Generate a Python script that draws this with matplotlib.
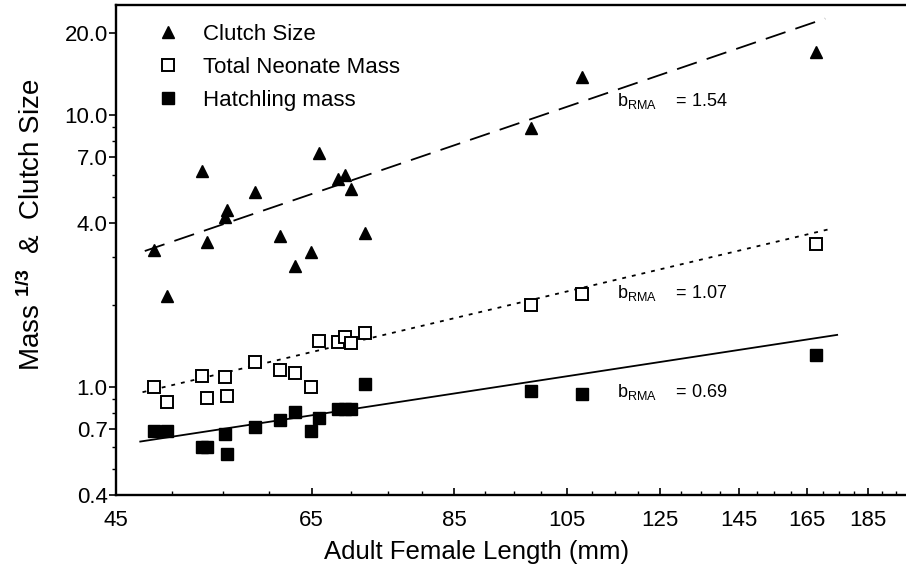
import numpy as np
import matplotlib
matplotlib.use("Agg")
import matplotlib.pyplot as plt
from matplotlib.ticker import FixedLocator, NullFormatter

plt.rcParams['font.family'] = ['Liberation Sans', 'DejaVu Sans']
plt.rcParams['mathtext.fontset'] = 'custom'
plt.rcParams['mathtext.rm'] = 'Liberation Sans'
plt.rcParams['mathtext.it'] = 'Liberation Sans:italic'
plt.rcParams['mathtext.bf'] = 'Liberation Sans:bold'
plt.rcParams['mathtext.sf'] = 'Liberation Sans'
plt.rcParams['lines.scale_dashes'] = False

# ---- data ----
female_length = [48.3, 49.5, 52.9, 53.4, 55.2, 55.4, 58.4, 61.2, 63.0, 64.9,
                 65.9, 68.3, 69.2, 70.0, 71.8, 98.1, 108.1, 167.7]
clutch_size = [3.19, 2.15, 6.24, 3.42, 4.21, 4.47, 5.22, 3.60, 2.79, 3.13,
               7.23, 5.80, 6.02, 5.35, 3.67, 8.93, 13.76, 17.09]
neonate_mass = [0.997, 0.876, 1.10, 0.906, 1.089, 0.927, 1.233, 1.155, 1.123, 1.0,
                1.476, 1.467, 1.531, 1.447, 1.576, 2.00, 2.20, 3.356]
hatchling_mass = [0.685, 0.685, 0.60, 0.60, 0.672, 0.567, 0.711, 0.756, 0.811, 0.689,
                  0.767, 0.830, 0.830, 0.830, 1.026, 0.967, 0.942, 1.311]

# RMA fits: log10(y) = log10a + b*log10(x)
fit_slopes = [1.54, 1.07, 0.69]
fit_log10_intercepts = [-2.0824, -1.8118, -1.3557]
fit_x_ranges = [(47.5, 170.6), (47.3, 172.3), (47.1, 174.5)]
fit_labels = ["1.54", "1.07", "0.69"]

series_names = ["Clutch Size", "Total Neonate Mass", "Hatchling mass"]

x_ticks = [45, 65, 85, 105, 125, 145, 165, 185]
x_tick_labels = ["45", "65", "85", "105", "125", "145", "165", "185"]
y_ticks = [0.4, 0.7, 1.0, 4.0, 7.0, 10.0, 20.0]
y_tick_labels = ["0.4", "0.7", "1.0", "4.0", "7.0", "10.0", "20.0"]
y_minor = [0.5, 0.6, 0.8, 0.9, 2, 3, 5, 6, 8, 9]

fig = plt.figure(figsize=(9.06, 5.68), dpi=100)
ax = fig.add_axes([116/906, 73/568, 790/906, 490/568])
ax.set_xscale('log')
ax.set_yscale('log')

# points
ax.plot(female_length, clutch_size, linestyle='none', marker='^', ms=8.5,
        mfc='black', mec='black', mew=1.0, label=series_names[0], zorder=3)
ax.plot(female_length, neonate_mass, linestyle='none', marker='s', ms=8.2,
        mfc='white', mec='black', mew=1.4, label=series_names[1], zorder=3)
ax.plot(female_length, hatchling_mass, linestyle='none', marker='s', ms=8.5,
        mfc='black', mec='black', mew=1.0, label=series_names[2], zorder=3)

# fit lines
dash_styles = [(0, (15, 7.5)), (0, (2.8, 4.3)), '-']
for b, la, (x0, x1), ls in zip(fit_slopes, fit_log10_intercepts, fit_x_ranges, dash_styles):
    xs = np.array([x0, x1])
    ys = 10 ** (la + b * np.log10(xs))
    ax.plot(xs, ys, color='black', lw=1.3, linestyle=ls, zorder=2)

# annotations
ann_pos = [(115.4, 10.8), (115.4, 2.125), (115.4, 0.917)]
for (tx, ty), lab in zip(ann_pos, fit_labels):
    ax.text(tx, ty, r'b$_{\mathrm{RMA}}$    = ' + lab, fontsize=13,
            ha='left', va='baseline')

ax.set_xlim(45, 198.6)
ax.set_ylim(0.4, 25.4)

ax.xaxis.set_major_locator(FixedLocator(x_ticks))
ax.set_xticklabels(x_tick_labels)
ax.xaxis.set_minor_locator(FixedLocator([v for v in range(50, 200, 5) if v not in x_ticks]))
ax.xaxis.set_minor_formatter(NullFormatter())
ax.yaxis.set_major_locator(FixedLocator(y_ticks))
ax.set_yticklabels(y_tick_labels)
ax.yaxis.set_minor_locator(FixedLocator(y_minor))
ax.yaxis.set_minor_formatter(NullFormatter())

ax.tick_params(axis='x', which='major', direction='in', length=5, width=1.2,
               labelsize=16, pad=11)
ax.tick_params(axis='x', which='minor', direction='in', length=3, width=1.0)
ax.tick_params(axis='y', which='major', direction='out', length=5, width=1.2,
               labelsize=16, pad=1)
ax.tick_params(axis='y', which='minor', direction='out', length=3, width=1.0)

for side in ['left', 'bottom', 'top']:
    ax.spines[side].set_linewidth(1.7)
ax.spines['right'].set_visible(False)

ax.set_xlabel('Adult Female Length (mm)', fontsize=18.5)
ax.xaxis.set_label_coords(0.456, -0.092)
ax.set_ylabel(r'Mass $^{\mathbf{1/3}}$  &  Clutch Size', fontsize=20)
ax.yaxis.set_label_coords(-0.089, 0.551)

ax.legend(loc='upper left', bbox_to_anchor=(0.052, 0.962), frameon=False,
          fontsize=16, handlelength=1.0, handletextpad=1.05, labelspacing=0.55,
          borderpad=0, borderaxespad=0, markerscale=1.0)

fig.savefig('out.png', dpi=100)
